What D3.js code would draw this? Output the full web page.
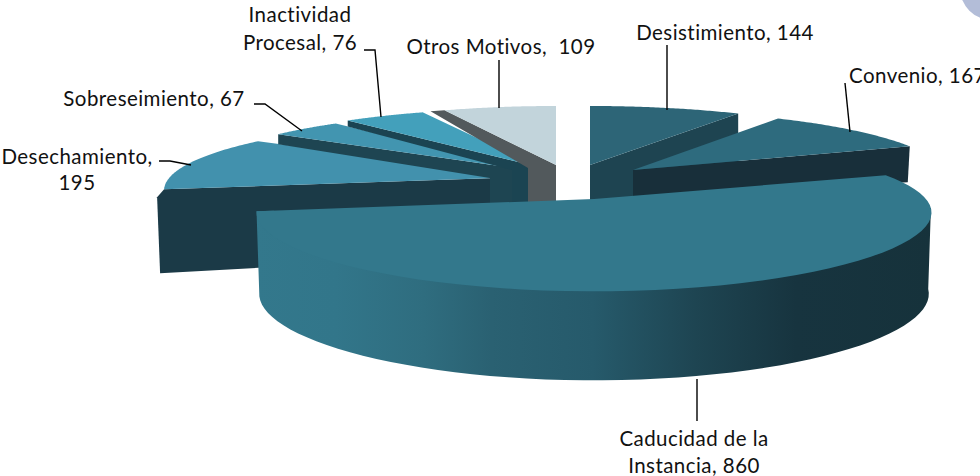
<!DOCTYPE html>
<html lang="es"><head><meta charset="utf-8">
<script src="https://cdn.jsdelivr.net/npm/d3@7/dist/d3.min.js"></script>
<style>html,body{margin:0;padding:0;background:#fff;overflow:hidden}svg{display:block}
text{font-family:Lato,"Open Sans",sans-serif;font-size:20.5px;letter-spacing:.45px;fill:#111;white-space:pre}</style>
</head><body><script>
// --- data ---
const categories = ["Desistimiento","Convenio","Caducidad de la Instancia","Desechamiento","Sobreseimiento","Inactividad Procesal","Otros Motivos"];
const values = [144,167,860,195,67,76,109];
const labelLines = [["Desistimiento, 144"],["Convenio, 167"],["Caducidad de la","Instancia, 860"],["Desechamiento,","195"],["Sobreseimiento, 67"],["Inactividad","Procesal, 76"],["Otros Motivos,  109"]];
// --- styling ---
const topColors  = ["#2d6577","#2e6b7e","#33788c","#4291ad","#4295b0","#43a0bb","#c2d4db"];
const wallColors = ["#1e4451","#182f3a",null,"#1b3a47","#1e4552","#1b4452","#52595c"];
// --- layout: projection of the exploded disc ---
const W=980,H=476,RY=72,PY=.22,PX=.18;
const explodeX=[590,633,594,528,527,539,556], explodeY=[165,170,199,177,170,167,165], radius=[322,315,332,358,330,330,316];
const paintOrder=[3,4,5,6,0,1,2];
const wallSpec={
 0:{c:"end",d0:50,tx:0,ty:50,depth:0},
 1:{c:"end",d0:36,tx:0,ty:27,depth:0,dx:-2},
 3:{c:"start",flare:true},
 4:{c:"start",d0:10,tx:-37,ty:8,depth:27},
 5:{c:"start",d0:6,tx:-27,ty:3,depth:38},
 6:{c:"start",otros:true}
};
const leaders=[[[667,45],[667,110]],[[845,83],[850,132]],[[697,379],[697,421]],[[159,161],[170,161],[191,165]],[[254,104],[265,104],[302,131]],[[364,50],[375,50],[381,117]],[[499,60],[499,108]]];
const labelX=[725,849,694,77,154,300,501], labelY=[33,76,439,157,99,15,47], lineGap=[0,0,27,26,0,28,0], anchors=["middle","start","middle","middle","middle","middle","middle"];

const svg=d3.select("body").append("svg").attr("width",W).attr("height",H).attr("viewBox",[0,0,W,H]);
const slices=d3.pie().sort(null).startAngle(0).endAngle(2*Math.PI).value(d=>d)(values);
const project=(i,a,r=1)=>{const u=Math.sin(a)*r,v=-Math.cos(a)*r;
  return [explodeX[i]+radius[i]*u/(1-PX*v), explodeY[i]+RY*v/(1-PY*v)];};
const line=d3.line();
const arcPts=(i,a0,a1,r=1)=>d3.range(0,61).map(k=>project(i,a0+(a1-a0)*k/60,r));

// decorative corner
svg.append("circle").attr("cx",992).attr("cy",-12).attr("r",32).attr("fill","#b3bdd8");

// gradient of the large slice wall
const grad=svg.append("defs").append("linearGradient").attr("id","wallGrad").attr("gradientUnits","userSpaceOnUse").attr("x1",254).attr("x2",932).attr("y1",0).attr("y2",0);
[[0,"#33788c"],[.12,"#32768a"],[.25,"#2f6d7f"],[.35,"#2a6172"],[.5,"#265a6b"],[.65,"#1e4552"],[.8,"#17343f"],[1,"#16323b"]].forEach(s=>grad.append("stop").attr("offset",s[0]).attr("stop-color",s[1]));

paintOrder.forEach(i=>{
  const s=slices[i],apex=[explodeX[i],explodeY[i]],g=svg.append("g").attr("class","slice").datum(values[i]);
  const arc=arcPts(i,s.startAngle,s.endAngle);
  if(i===2){
    const a0=97*Math.PI/180,a1=s.endAngle;
    const outer=arcPts(i,a0,a1);
    const bot=outer.map(p=>{const k=(p[1]-explodeY[i])/92;return [apex[0]+(p[0]-apex[0])*.992,p[1]+80+9*k];}).reverse();
    // the wall's upper edge runs under the top face, so no seam shows where they meet
    const inner=[outer[0],...arcPts(i,a0,a1,.95),outer[outer.length-1]];
    g.append("path").attr("d",line(inner.concat(bot))+"Z").attr("fill","url(#wallGrad)");
  } else {
    const w=wallSpec[i]; let poly;
    const c=w.c==="end"?arc[arc.length-1]:arc[0];
    if(w.flare){
      poly=[c,[c[0]-7,c[1]+8],[c[0]-4,c[1]+84],[apex[0],apex[1]+76],apex];
    } else if(w.otros){
      poly=[c,[c[0]-14,c[1]+1],[apex[0]-28,apex[1]+3],[apex[0]-28,apex[1]+45],[apex[0],apex[1]+45],apex];
    } else {
      const e=[apex[0]+w.tx,apex[1]+w.ty];
      poly=[c,[c[0]+(w.dx||0),c[1]+w.d0],e];
      if(w.depth) poly.push([e[0],e[1]+w.depth],[apex[0],e[1]+w.depth]);
      poly.push(apex);
    }
    g.append("path").attr("d",line(poly)+"Z").attr("fill",wallColors[i]);
  }
  g.append("path").attr("d",line([apex].concat(arc))+"Z").attr("fill",topColors[i]);
});

// leader lines
svg.append("g").selectAll("path").data(leaders).join("path").attr("d",d=>line(d)).attr("fill","none").attr("stroke","#000").attr("stroke-width",1.4);

// labels
const lab=svg.append("g").selectAll("text").data(labelLines).join("text").attr("text-anchor",(d,i)=>anchors[i]);
lab.each(function(d,i){d3.select(this).selectAll("tspan").data(d).join("tspan").attr("x",labelX[i]).attr("y",(t,k)=>labelY[i]+7+k*lineGap[i]).text(t=>t);});
</script></body></html>
